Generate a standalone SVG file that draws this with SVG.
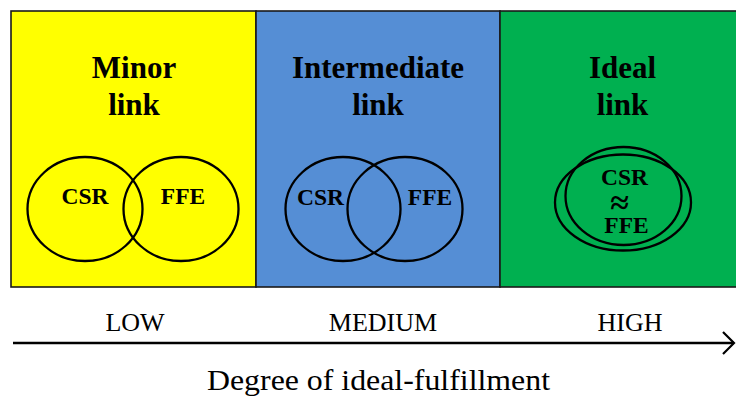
<svg xmlns="http://www.w3.org/2000/svg" width="736" height="397" viewBox="0 0 736 397">
<defs>
<style>
.panel{stroke:#1a1a1a;stroke-width:1.6}
.title{font-family:"Liberation Serif","Times New Roman",serif;font-weight:bold;font-size:31px;text-anchor:middle;fill:#000}
.lbl{font-family:"Liberation Serif","Times New Roman",serif;font-weight:bold;font-size:23.5px;text-anchor:middle;fill:#000}
.approx{font-family:"Liberation Serif","Times New Roman",serif;font-weight:bold;font-size:34px;text-anchor:middle;fill:#000}
.ring{fill:none;stroke:#000;stroke-width:2.3}
.axis{font-family:"Liberation Serif","Times New Roman",serif;font-size:26px;text-anchor:middle;fill:#000}
.caption{font-family:"Liberation Serif","Times New Roman",serif;font-size:30px;text-anchor:middle;fill:#000}
</style>
<marker id="arr" markerWidth="14" markerHeight="24" refX="12" refY="12" orient="auto" markerUnits="userSpaceOnUse">
<path d="M1,1 L12,12 L1,23" fill="none" stroke="#000" stroke-width="2.2"/>
</marker>
</defs>
<rect width="736" height="397" fill="#fff"/>
<g id="minor">
<rect class="panel" x="11" y="11" width="245" height="276" fill="#FFFF00"/>
<text class="title" x="134" y="78">Minor</text>
<text class="title" x="134" y="115">link</text>
<ellipse class="ring" cx="85" cy="209" rx="57.5" ry="52"/>
<ellipse class="ring" cx="181" cy="209" rx="57.5" ry="52"/>
<text class="lbl" x="85" y="204">CSR</text>
<text class="lbl" x="183" y="204">FFE</text>
</g>
<g id="intermediate">
<rect class="panel" x="256" y="11" width="244" height="276" fill="#558ED5"/>
<text class="title" x="378" y="78">Intermediate</text>
<text class="title" x="378" y="115">link</text>
<ellipse class="ring" cx="343" cy="209" rx="57.5" ry="52"/>
<ellipse class="ring" cx="405" cy="209" rx="57.5" ry="52"/>
<text class="lbl" x="320.5" y="205">CSR</text>
<text class="lbl" x="430" y="205">FFE</text>
</g>
<g id="ideal">
<rect class="panel" x="500" y="11" width="240" height="276" fill="#00B050"/>
<text class="title" x="622.5" y="78">Ideal</text>
<text class="title" x="622.5" y="115">link</text>
<ellipse class="ring" cx="623" cy="202.5" rx="68" ry="48"/>
<ellipse class="ring" cx="623.5" cy="196" rx="58" ry="49"/>
<text class="lbl" x="624.5" y="185">CSR</text>
<text class="approx" x="619.5" y="214">≈</text>
<text class="lbl" x="626.5" y="233">FFE</text>
</g>
<g id="connectors">
<line x1="13" y1="343" x2="734" y2="343" stroke="#000" stroke-width="2.6" marker-end="url(#arr)"/>
</g>
<g id="axis-labels">
<text class="axis" x="135" y="331">LOW</text>
<text class="axis" x="383" y="331">MEDIUM</text>
<text class="axis" x="630" y="331">HIGH</text>
<text class="caption" x="378.5" y="390" textLength="343" lengthAdjust="spacingAndGlyphs">Degree of ideal-fulfillment</text>
</g>
</svg>
